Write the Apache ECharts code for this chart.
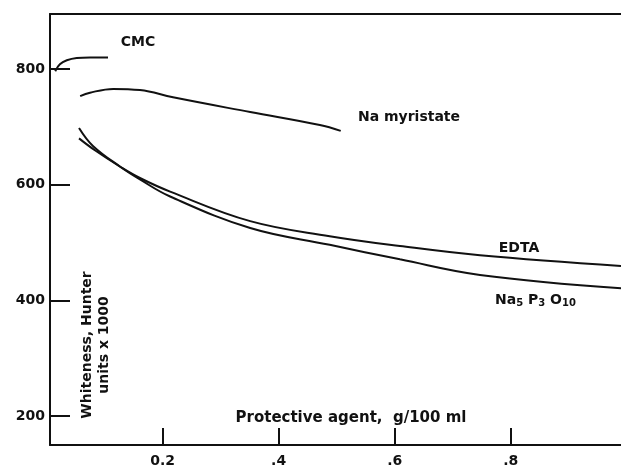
<!DOCTYPE html>
<html>
<head>
<meta charset="utf-8">
<script src="https://cdn.jsdelivr.net/npm/echarts@6/dist/echarts.min.js"></script>
<style>html,body{margin:0;padding:0;background:#fff}#c{width:621px;height:468px}</style>
</head>
<body>
<div id="c"></div>
<script>
// Data (x: g/100 ml, y: whiteness, Hunter units x 1000)
var cmc = [[0.015,796],[0.023,808],[0.035,815],[0.052,819],[0.075,820],[0.106,820]];
var naMyristate = [[0.058,753],[0.075,759],[0.115,765.5],[0.161,763.5],[0.218,751],[0.351,725.5],[0.471,703],[0.507,693]];
var edta = [[0.056,680],[0.084,659],[0.127,631],[0.161,611.5],[0.213,588],[0.351,537],[0.488,511],[0.609,494],[0.747,478],[0.99,459.5]];
var naTripoly = [[0.056,698],[0.080,667],[0.127,631],[0.161,609],[0.213,579.5],[0.351,525],[0.488,496],[0.609,471],[0.747,444],[0.99,421]];
var xTicks = [0.2, 0.4, 0.6, 0.8];
var xTickLabels = ['0.2', '.4', '.6', '.8'];
var yTicks = [200, 400, 600, 800];
var xName = 'Protective agent,  g/100 ml';
var yName = 'Whiteness, Hunter\nunits x 1000';

var FONT = 'DejaVu Sans';
var chart = echarts.init(document.getElementById('c'), null, {renderer: 'canvas'});
function lineSeries(name, data) {
  return {
    name: name, type: 'line', data: data, smooth: 0.4, symbol: 'none',
    lineStyle: {color: '#111', width: 2}, xAxisIndex: 0, yAxisIndex: 0,
    animation: false
  };
}
var option = {
  animation: false,
  backgroundColor: '#fff',
  grid: {left: 50, right: 0, top: 14, bottom: 19, containLabel: false},
  xAxis: [{
    type: 'value', min: 0.006, max: 0.99,
    axisLine: {show: true, lineStyle: {color: '#111', width: 2}},
    axisTick: {show: true, inside: true, length: 17, customValues: xTicks, lineStyle: {color: '#111', width: 2}},
    axisLabel: {show: true, customValues: xTicks, margin: 9, color: '#111', fontFamily: FONT, fontWeight: 'bold', fontSize: 14,
      formatter: function (v) { var i = xTicks.indexOf(Math.round(v * 10) / 10); return i >= 0 ? xTickLabels[i] : ''; }},
    splitLine: {show: false}
  }, {
    type: 'value', position: 'top', min: 0.006, max: 0.99,
    axisLine: {show: true, lineStyle: {color: '#111', width: 2}},
    axisTick: {show: false}, axisLabel: {show: false}, splitLine: {show: false}
  }],
  yAxis: [{
    type: 'value', min: 150, max: 895,
    axisLine: {show: true, lineStyle: {color: '#111', width: 2}},
    axisTick: {show: true, inside: true, length: 20, customValues: yTicks, lineStyle: {color: '#111', width: 2}},
    axisLabel: {show: true, customValues: yTicks, margin: 5, color: '#111', fontFamily: FONT, fontWeight: 'bold', fontSize: 14},
    splitLine: {show: false}
  }],
  series: [
    lineSeries('CMC', cmc),
    lineSeries('Na myristate', naMyristate),
    lineSeries('EDTA', edta),
    lineSeries('Na5P3O10', naTripoly)
  ],
  graphic: [
    {type: 'text', x: 351, y: 418, style: {text: xName, font: 'bold 15px "' + FONT + '"', fill: '#111', align: 'center', verticalAlign: 'middle'}},
    {type: 'text', x: 79, y: 345, rotation: Math.PI / 2, style: {text: yName, font: 'bold 14px "' + FONT + '"', fill: '#111', align: 'center', verticalAlign: 'top', lineHeight: 17}},
    {type: 'text', x: 138, y: 42, style: {text: 'CMC', font: 'bold 14px "' + FONT + '"', fill: '#111', align: 'center', verticalAlign: 'middle'}},
    {type: 'text', x: 409, y: 117, style: {text: 'Na myristate', font: 'bold 14px "' + FONT + '"', fill: '#111', align: 'center', verticalAlign: 'middle'}},
    {type: 'text', x: 519, y: 248, style: {text: 'EDTA', font: 'bold 14px "' + FONT + '"', fill: '#111', align: 'center', verticalAlign: 'middle'}},
    {type: 'text', x: 495, y: 293, style: {
      text: '{n|Na}{s|5}{n| P}{s|3}{n| O}{s|10}',
      rich: {
        n: {fontFamily: FONT, fontWeight: 'bold', fontSize: 14, fill: '#111', color: '#111', verticalAlign: 'top', lineHeight: 15, padding: [0, 0, 4, 0]},
        s: {fontFamily: FONT, fontWeight: 'bold', fontSize: 10, fill: '#111', color: '#111', verticalAlign: 'bottom', lineHeight: 11}
      }
    }}
  ]
};
chart.setOption(option);
</script>
</body>
</html>
